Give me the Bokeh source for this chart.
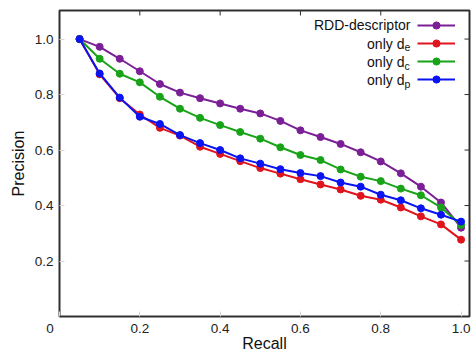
from bokeh.plotting import figure
from bokeh.models import (Range1d, FixedTicker, Legend, LegendItem, Label)
from bokeh.embed import file_html
from bokeh.resources import INLINE

recall = [0.05, 0.10, 0.15, 0.20, 0.25, 0.30, 0.35, 0.40, 0.45, 0.50,
          0.55, 0.60, 0.65, 0.70, 0.75, 0.80, 0.85, 0.90, 0.95, 1.00]
rdd = [1.0, 0.972, 0.929, 0.884, 0.838, 0.807, 0.787, 0.768, 0.749, 0.732,
       0.705, 0.671, 0.647, 0.622, 0.592, 0.559, 0.516, 0.468, 0.411, 0.320]
only_de = [1.0, 0.873, 0.787, 0.728, 0.680, 0.652, 0.612, 0.586, 0.560, 0.535,
           0.515, 0.495, 0.476, 0.458, 0.435, 0.421, 0.393, 0.361, 0.332, 0.277]
only_dc = [1.0, 0.929, 0.875, 0.844, 0.792, 0.749, 0.716, 0.690, 0.665, 0.641,
           0.610, 0.582, 0.564, 0.530, 0.504, 0.488, 0.461, 0.437, 0.393, 0.330]
only_dp = [1.0, 0.876, 0.789, 0.720, 0.694, 0.654, 0.625, 0.600, 0.570, 0.551,
           0.531, 0.517, 0.506, 0.483, 0.468, 0.439, 0.419, 0.390, 0.367, 0.342]

x_tick_vals = [0, 0.2, 0.4, 0.6, 0.8, 1.0]
y_tick_vals = [0.2, 0.4, 0.6, 0.8, 1.0]
NB = "\u00a0"
x_tick_labels = {0: "0" + NB * 5, 0.2: "0.2", 0.4: "0.4", 0.6: "0.6", 0.8: "0.8", 1.0: "1.0"}
y_tick_labels = {0.2: "0.2", 0.4: "0.4", 0.6: "0.6", 0.8: "0.8", 1.0: "1.0"}

series = [
    ("RDD-descriptor", "", rdd, "#7b1f96"),
    ("only d", "e", only_de, "#e0141c"),
    ("only d", "c", only_dc, "#19a319"),
    ("only d", "p", only_dp, "#0a14f0"),
]

FONT = "Liberation Sans"
X_END, Y_END = 1.021, 1.103

p = figure(width=472, height=354, output_backend="svg", toolbar_location=None,
           x_range=Range1d(0, X_END), y_range=Range1d(0, Y_END),
           min_border_left=59, min_border_right=3, min_border_top=10, min_border_bottom=38,
           background_fill_color="white", border_fill_color="white")
p.grid.visible = False
p.outline_line_color = "#303030"
p.outline_line_width = 2

for ax, tv, tl in ((p.xaxis[0], x_tick_vals, x_tick_labels), (p.yaxis[0], y_tick_vals, y_tick_labels)):
    ax.ticker = FixedTicker(ticks=tv)
    ax.major_label_overrides = tl
    ax.axis_line_color = None
    ax.major_tick_in = 5
    ax.major_tick_out = 0
    ax.major_tick_line_color = "#d8d8d8"
    ax.minor_tick_line_color = None
    ax.major_label_text_font = FONT
    ax.major_label_text_font_size = "13.5px"
    ax.major_label_text_color = "#222222"
    ax.axis_label_text_font = FONT
    ax.axis_label_text_font_size = "16px"
    ax.axis_label_text_font_style = "normal"
    ax.axis_label_text_color = "#111111"
p.xaxis.axis_label = "Recall"
p.yaxis.axis_label = "Precision"
p.xaxis.major_label_standoff = 4
p.xaxis.axis_label_standoff = -4
p.yaxis.major_label_standoff = 6
p.yaxis.axis_label_standoff = 5

# mirrored inward ticks on the top and right borders
tick_len_y = 5 * Y_END / 306
tick_len_x = 5 * X_END / 410
p.segment(x0=y_tick_vals[:-1], y0=[Y_END] * 4, x1=y_tick_vals[:-1], y1=[Y_END - tick_len_y] * 4,
          line_color="#303030", line_width=1)
p.segment(x0=[X_END] * 5, y0=y_tick_vals, x1=[X_END - tick_len_x] * 5, y1=y_tick_vals,
          line_color="#303030", line_width=1)

items = []
for name, sub, vals, col in series:
    ln = p.line(recall, vals, line_color=col, line_width=2)
    sc = p.scatter(recall, vals, marker="circle", size=7, fill_color=col, line_color=col)
    items.append(LegendItem(label=" ", renderers=[ln, sc]))

legend = Legend(items=items, location=(358, 228), orientation="vertical",
                glyph_width=38, glyph_height=18, spacing=0, padding=0, margin=0,
                label_standoff=0, label_width=0, label_height=18,
                label_text_font_size="10px",
                border_line_color=None, background_fill_alpha=0)
p.add_layout(legend, "center")

row_y = [1.0505, 0.984, 0.918, 0.852]
for (name, sub, vals, col), yy in zip(series, row_y):
    if sub:
        p.add_layout(Label(x=0.859, y=yy, text=name, text_align="right", text_baseline="middle",
                           text_font=FONT, text_font_size="14px", text_color="#111111"))
        p.add_layout(Label(x=0.859, y=yy - 0.014, text=sub, text_align="left", text_baseline="middle",
                           text_font=FONT, text_font_size="10.5px", text_color="#111111"))
    else:
        p.add_layout(Label(x=0.874, y=yy, text=name, text_align="right", text_baseline="middle",
                           text_font=FONT, text_font_size="14px", text_color="#111111"))

open("out.html", "w").write(file_html(p, INLINE))
